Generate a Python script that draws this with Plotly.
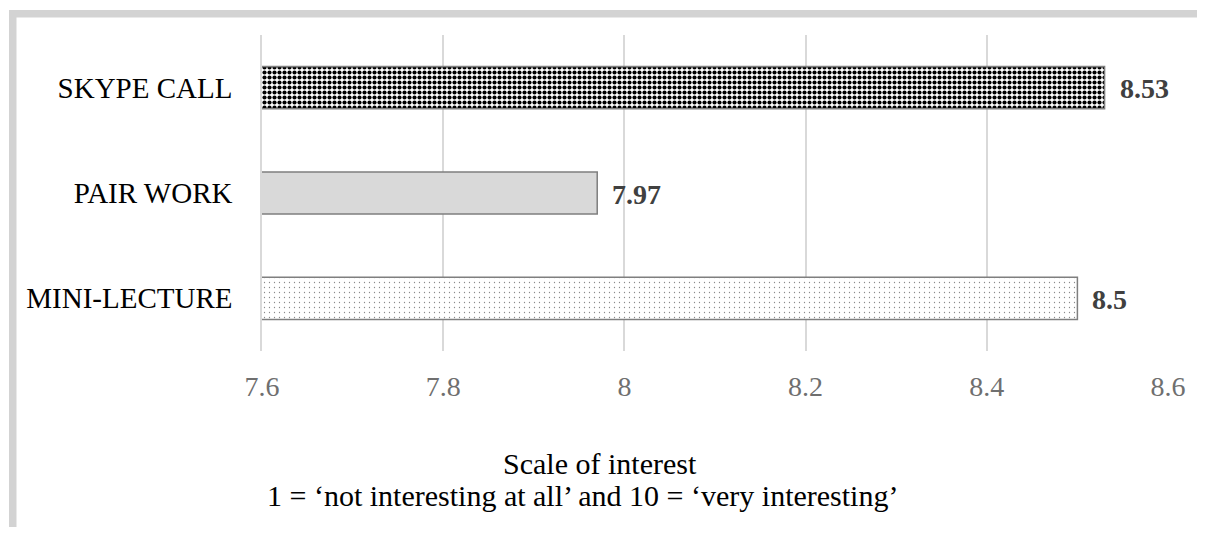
import plotly.graph_objects as go

categories = ["MINI-LECTURE", "PAIR WORK", "SKYPE CALL"]
values = [8.5, 7.97, 8.53]
value_labels = ["8.5", "7.97", "8.53"]
tick_vals = [7.6, 7.8, 8.0, 8.2, 8.4, 8.6]
tick_text = ["7.6", "7.8", "8", "8.2", "8.4", "8.6"]
title_line1 = "Scale of interest"
title_line2 = "1 = \u2018not interesting at all\u2019 and 10 = \u2018very interesting\u2019"

# page body has an 8px margin: figure is shrunk and coordinates offset
OFF = 8
W, H = 1205 - 2 * OFF, 535 - 2 * OFF
PLOT_L, PLOT_R, PLOT_T, PLOT_B = 262, 1168, 35, 351  # screen px
ML = PLOT_L - OFF
MR = W - (PLOT_R - OFF)
MT = PLOT_T - OFF
MB = H - (PLOT_B - OFF)
PW, PH = W - ML - MR, H - MT - MB

def px_x(px):
    return (px - OFF - ML) / PW

def px_y(py):
    return (H - MB - (py - OFF)) / PH

SERIF = "Liberation Serif"

styles = {
    "MINI-LECTURE": dict(color="white", pattern=dict(shape=".", fgcolor="#8a8a8a",
                                                     bgcolor="white", size=5, solidity=0.05,
                                                     fillmode="replace")),
    "PAIR WORK": dict(color="#d9d9d9", pattern=dict(shape="")),
    "SKYPE CALL": dict(color="white", pattern=dict(shape=".", fgcolor="black",
                                                   bgcolor="white", size=5, solidity=0.55,
                                                   fillmode="replace")),
}

fig = go.Figure()
for c, v in zip(categories, values):
    st = styles[c]
    fig.add_trace(go.Bar(
        y=[c], x=[v], orientation="h", width=0.4,
        marker=dict(color=st["color"], pattern=st["pattern"],
                    line=dict(color="#7f7f7f", width=1.5)),
        hoverinfo="skip", name=c,
    ))

for c, v, t in zip(categories, values, value_labels):
    fig.add_annotation(
        x=v, y=c, text=t, showarrow=False, xanchor="left", yanchor="middle",
        xshift=13, yshift=-1,
        font=dict(family=SERIF, size=28, color="#404040", weight="bold"),
    )

fig.add_annotation(
    x=px_x(600), y=px_y(463), xref="paper", yref="paper",
    text=title_line1, showarrow=False, xanchor="center", yanchor="middle",
    font=dict(family=SERIF, size=30, color="black"),
)
fig.add_annotation(
    x=px_x(582), y=px_y(495), xref="paper", yref="paper",
    text=title_line2, showarrow=False, xanchor="center", yanchor="middle",
    font=dict(family=SERIF, size=30, color="black"),
)

# outer frame (top and left gray borders)
fig.add_shape(type="rect", xref="paper", yref="paper",
              x0=px_x(9), x1=px_x(16.5), y0=px_y(545), y1=px_y(10),
              fillcolor="#d3d3d3", line_width=0, layer="above")
fig.add_shape(type="rect", xref="paper", yref="paper",
              x0=px_x(9), x1=px_x(1215), y0=px_y(17.5), y1=px_y(10),
              fillcolor="#d3d3d3", line_width=0, layer="above")

fig.update_layout(
    width=W, height=H,
    margin=dict(l=ML, r=MR, t=MT, b=MB, autoexpand=False),
    paper_bgcolor="white", plot_bgcolor="white",
    font=dict(family=SERIF),
    showlegend=False,
    barmode="overlay",
    xaxis=dict(
        range=[7.6, 8.6],
        tickvals=tick_vals, ticktext=tick_text,
        showgrid=True, gridcolor="#d9d9d9", gridwidth=1.5,
        zeroline=False, showline=False,
        ticks="outside", ticklen=10, tickcolor="rgba(0,0,0,0)",
        tickfont=dict(family=SERIF, size=28, color="#6f6f6f"),
        fixedrange=True,
    ),
    yaxis=dict(
        type="category",
        categoryorder="array", categoryarray=categories,
        range=[-0.5, 2.5],
        showgrid=False, zeroline=False,
        showline=True, linecolor="#d9d9d9", linewidth=1.5,
        ticks="outside", ticklen=22, tickcolor="rgba(0,0,0,0)",
        tickfont=dict(family=SERIF, size=29, color="black"),
        fixedrange=True,
    ),
)

fig.write_html("out.html")
